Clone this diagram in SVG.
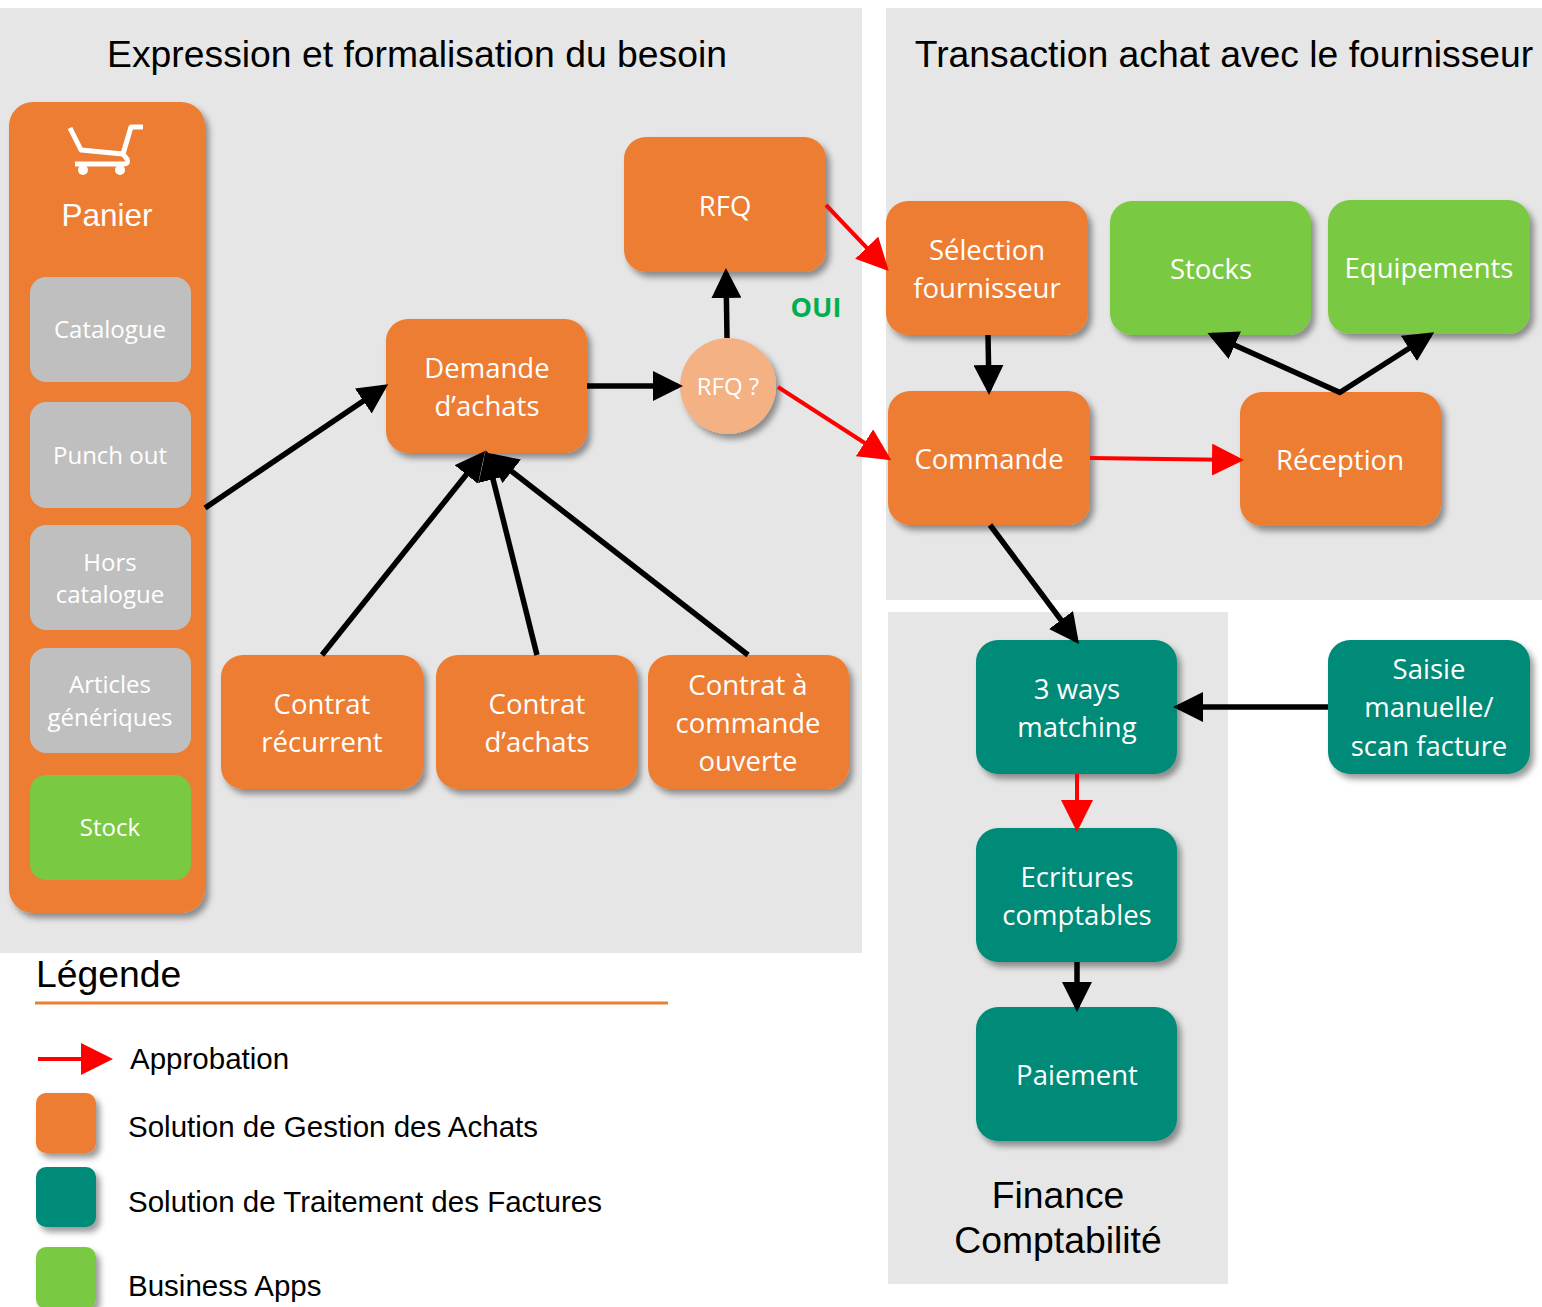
<svg xmlns="http://www.w3.org/2000/svg" width="1542" height="1307" viewBox="0 0 1542 1307">
<style>
.panel{fill:#E6E6E6}
.or{fill:#ED7D31}
.gr{fill:#7AC943}
.te{fill:#008A78}
.gy{fill:#BFBFBF}
.sh{filter:url(#shadow)}
.nt{font-family:"Open Sans","Liberation Sans",sans-serif;font-size:27.5px;fill:#FFFFFF;text-anchor:middle}
.st{font-family:"Open Sans","Liberation Sans",sans-serif;font-size:24px;fill:#FFFFFF;text-anchor:middle}
.tt{font-family:"Liberation Sans",Arial,sans-serif;font-size:37.3px;fill:#000000}
.lt{font-family:"Liberation Sans",Arial,sans-serif;font-size:29.5px;fill:#000000}
.bk{stroke:#000000;stroke-width:5.5;fill:none;marker-end:url(#ab)}
.rd{stroke:#FF0000;stroke-width:4;fill:none;marker-end:url(#ar)}
</style>
<defs>
<filter id="shadow" x="-10%" y="-10%" width="130%" height="130%">
<feDropShadow dx="4" dy="5" stdDeviation="3" flood-color="#000000" flood-opacity="0.4"/>
</filter>
<marker id="ab" markerUnits="userSpaceOnUse" markerWidth="30" markerHeight="30" refX="25" refY="15" orient="auto">
<path d="M0,0 L30,15 L0,30 z" fill="#000000"/>
</marker>
<marker id="ar" markerUnits="userSpaceOnUse" markerWidth="32" markerHeight="32" refX="28" refY="16" orient="auto">
<path d="M0,0 L32,16 L0,32 z" fill="#FF0000"/>
</marker>
</defs>
<rect width="1542" height="1307" fill="#FFFFFF"/>
<g id="panels">
<rect class="panel" x="0" y="8" width="862" height="945"/>
<rect class="panel" x="886" y="8" width="656" height="592"/>
<rect class="panel" x="888" y="612" width="340" height="672"/>
<text class="tt" x="417" y="67" text-anchor="middle">Expression et formalisation du besoin</text>
<text class="tt" x="1224" y="67" text-anchor="middle">Transaction achat avec le fournisseur</text>
<text class="tt" x="1058" y="1208" text-anchor="middle">Finance</text>
<text class="tt" x="1058" y="1253" text-anchor="middle">Comptabilité</text>
</g>
<g id="panier">
<rect class="or sh" x="9" y="102" width="196" height="811" rx="24"/>
<g stroke="#FFFFFF" stroke-width="5" fill="none" stroke-linejoin="round">
<path d="M143,127 H131 L123,154 L81,150 L70,128"/>
<path d="M123,154 L127,159 Q129,164 124,164 H75"/>
</g>
<circle cx="83" cy="170" r="5" fill="#FFFFFF"/>
<circle cx="120" cy="170" r="5" fill="#FFFFFF"/>
<text x="107" y="226" text-anchor="middle" font-family="Liberation Sans, Arial, sans-serif" font-size="31.5" fill="#FFFFFF">Panier</text>
</g>
<g id="catalogue"><rect class="gy" x="30" y="277" width="161" height="105" rx="16"/><text class="st" x="110" y="338">Catalogue</text></g>
<g id="punchout"><rect class="gy" x="30" y="402" width="161" height="106" rx="16"/><text class="st" x="110" y="464">Punch out</text></g>
<g id="horscatalogue"><rect class="gy" x="30" y="525" width="161" height="105" rx="16"/><text class="st" x="110" y="571">Hors</text><text class="st" x="110" y="603">catalogue</text></g>
<g id="articles"><rect class="gy" x="30" y="648" width="161" height="105" rx="16"/><text class="st" x="110" y="693">Articles</text><text class="st" x="110" y="726">génériques</text></g>
<g id="stock"><rect class="gr" x="30" y="775" width="161" height="105" rx="16"/><text class="st" x="110" y="836">Stock</text></g>

<g id="rfq"><rect class="or sh" x="624" y="137" width="202" height="135" rx="22"/><text class="nt" x="725" y="216">RFQ</text></g>
<g id="demande"><rect class="or sh" x="386" y="319" width="201" height="134" rx="22"/><text class="nt" x="487" y="378">Demande</text><text class="nt" x="487" y="416">d’achats</text></g>
<g id="rfqq"><circle cx="728" cy="386" r="48" fill="#F4B183" class="sh"/><text class="st" x="728" y="395">RFQ ?</text></g>
<g id="contratrec"><rect class="or sh" x="221" y="655" width="202" height="134" rx="22"/><text class="nt" x="322" y="714">Contrat</text><text class="nt" x="322" y="752">récurrent</text></g>
<g id="contratach"><rect class="or sh" x="436" y="655" width="201" height="134" rx="22"/><text class="nt" x="537" y="714">Contrat</text><text class="nt" x="537" y="752">d’achats</text></g>
<g id="contratcmd"><rect class="or sh" x="648" y="655" width="201" height="134" rx="22"/><text class="nt" x="748" y="695">Contrat à</text><text class="nt" x="748" y="733">commande</text><text class="nt" x="748" y="771">ouverte</text></g>
<g id="selection"><rect class="or sh" x="886" y="201" width="202" height="134" rx="22"/><text class="nt" x="987" y="260">Sélection</text><text class="nt" x="987" y="298">fournisseur</text></g>
<g id="stocks"><rect class="gr sh" x="1110" y="201" width="201" height="134" rx="22"/><text class="nt" x="1211" y="279">Stocks</text></g>
<g id="equipements"><rect class="gr sh" x="1328" y="200" width="202" height="134" rx="22"/><text class="nt" x="1429" y="278">Equipements</text></g>
<g id="commande"><rect class="or sh" x="888" y="391" width="202" height="134" rx="22"/><text class="nt" x="989" y="469">Commande</text></g>
<g id="reception"><rect class="or sh" x="1240" y="392" width="201" height="134" rx="22"/><text class="nt" x="1340" y="470">Réception</text></g>
<g id="matching"><rect class="te sh" x="976" y="640" width="201" height="134" rx="22"/><text class="nt" x="1077" y="699">3 ways</text><text class="nt" x="1077" y="737">matching</text></g>
<g id="saisie"><rect class="te sh" x="1328" y="640" width="202" height="134" rx="22"/><text class="nt" x="1429" y="679">Saisie</text><text class="nt" x="1429" y="717">manuelle/</text><text class="nt" x="1429" y="756">scan facture</text></g>
<g id="ecritures"><rect class="te sh" x="976" y="828" width="201" height="134" rx="22"/><text class="nt" x="1077" y="887">Ecritures</text><text class="nt" x="1077" y="925">comptables</text></g>
<g id="paiement"><rect class="te sh" x="976" y="1007" width="201" height="134" rx="22"/><text class="nt" x="1077" y="1085">Paiement</text></g>

<g id="connectors">
<line class="bk" x1="205" y1="508" x2="384" y2="387"/>
<line class="bk" x1="587" y1="386" x2="678" y2="386"/>
<line class="bk" x1="727" y1="338" x2="726" y2="273"/>
<line class="bk" x1="322" y1="655" x2="482" y2="455"/>
<line class="bk" x1="537" y1="655" x2="487" y2="455"/>
<line class="bk" x1="748" y1="655" x2="492" y2="456"/>
<line class="rd" x1="826" y1="205" x2="886" y2="268"/>
<line class="rd" x1="778" y1="387" x2="888" y2="458"/>
<line class="bk" x1="988" y1="335" x2="989" y2="390"/>
<line class="rd" x1="1090" y1="458" x2="1240" y2="460"/>
<line class="bk" x1="1341" y1="393" x2="1212" y2="335"/>
<line class="bk" x1="1339" y1="393" x2="1430" y2="335"/>
<line class="bk" x1="990" y1="525" x2="1076" y2="640"/>
<line class="bk" x1="1328" y1="707" x2="1178" y2="707"/>
<line class="rd" x1="1077" y1="774" x2="1077" y2="828"/>
<line class="bk" x1="1077" y1="962" x2="1077" y2="1007"/>
</g>
<text x="816" y="317" text-anchor="middle" font-family="Open Sans, Liberation Sans, sans-serif" font-size="27" font-weight="bold" fill="#00B050">OUI</text>

<g id="legend">
<text class="tt" x="36" y="987">Légende</text>
<line x1="35" y1="1003" x2="668" y2="1003" stroke="#ED7D31" stroke-width="3"/>
<line class="rd" x1="38" y1="1059" x2="109" y2="1059"/>
<text class="lt" x="130" y="1069">Approbation</text>
<rect class="or sh" x="36" y="1093" width="60" height="60" rx="10"/>
<text class="lt" x="128" y="1137">Solution de Gestion des Achats</text>
<rect class="te sh" x="36" y="1167" width="60" height="60" rx="10"/>
<text class="lt" x="128" y="1212">Solution de Traitement des Factures</text>
<rect class="gr sh" x="36" y="1247" width="60" height="62" rx="10"/>
<text class="lt" x="128" y="1296">Business Apps</text>
</g>
</svg>
